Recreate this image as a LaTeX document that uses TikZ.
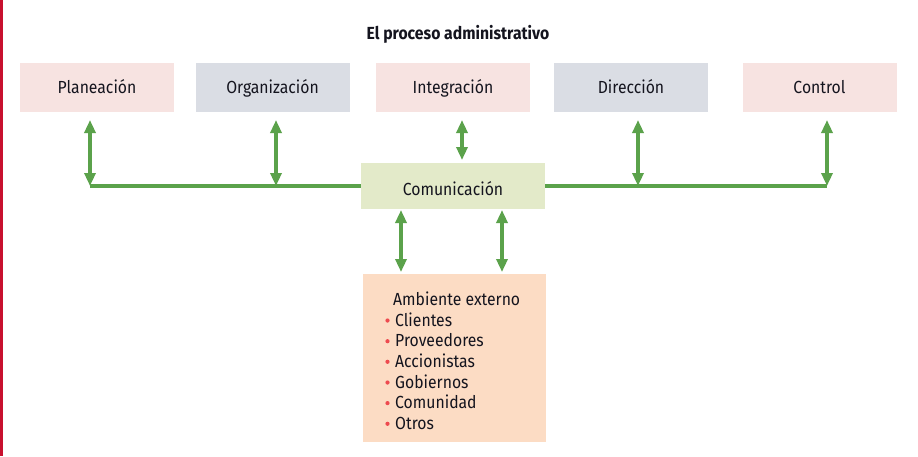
\documentclass[tikz,border=0pt]{standalone}
\usepackage{fontspec}
\setmainfont{Fira Sans}[FakeStretch=0.9]
\usetikzlibrary{arrows.meta}
\definecolor{pinkbox}{HTML}{F7E3E1}
\definecolor{graybox}{HTML}{DADDE4}
\definecolor{greenbox}{HTML}{E3EAC9}
\definecolor{peachbox}{HTML}{FCDCC4}
\definecolor{arrowgreen}{HTML}{5BA24B}
\definecolor{bulletred}{HTML}{EE4A4F}
\definecolor{barred}{HTML}{C8102E}
\definecolor{textdark}{HTML}{14141E}
\begin{document}
\begin{tikzpicture}[x=1pt,y=-1pt,
  box/.style={minimum width=154pt,minimum height=49pt,inner sep=0pt,text=textdark,
    font=\fontsize{17.5}{20}\selectfont,text height=12.6pt,text depth=0pt},
  conn/.style={draw=arrowgreen,line width=3.2pt},
  dbl/.style={conn,{Triangle[width=11pt,length=13pt]}-{Triangle[width=11pt,length=13pt]}},
  item/.style={anchor=base west,inner sep=0pt,text=textdark,font=\fontsize{17.5}{20}\selectfont}
]
\useasboundingbox (0,0) rectangle (918,456);
\fill[white] (0,0) rectangle (918,456);
\fill[barred] (0,0) rectangle (2.5,456);

\node[font=\bfseries\fontsize{17.5}{20}\selectfont,text=textdark,anchor=base] (title) at (458,39.3) {El proceso administrativo};

\node[box,fill=pinkbox] (plan) at (97,87.5) {Planeación};
\node[box,fill=graybox] (org) at (272.5,87.5) {Organización};
\node[box,fill=pinkbox] (integ) at (453,87.5) {Integración};
\node[box,fill=graybox] (dir) at (631,87.5) {Dirección};
\node[box,fill=pinkbox] (ctrl) at (819.5,87.5) {Control};

\node[box,fill=greenbox,minimum width=184pt,minimum height=46pt] (com) at (453,186) {};
\node[item,anchor=base] (comtext) at (453,195) {Comunicación};

\node[fill=peachbox,minimum width=183pt,minimum height=168pt,inner sep=0pt] (amb) at (454.5,358) {};
\node[item] (hdr) at (393,305) {Ambiente externo};
\foreach \t/\y [count=\i] in {Clientes/326,Proveedores/346.7,Accionistas/367.3,Gobiernos/388,Comunidad/408.6,Otros/429.3}{
  \fill[bulletred] (387.5,\y-5.5) circle (2.1pt);
  \node[item] (it\i) at (395,\y) {\t};
}

% trunk line
\coordinate (jp) at (90,186);
\coordinate (jo) at (276,186);
\coordinate (jd) at (638,186);
\coordinate (jc) at (827,186);
\draw[conn] (jp) -- (com.west);
\draw[conn] (com.east) -- (jc);

% arrows to top boxes
\coordinate (tp) at (90,120);
\coordinate (to) at (276,120);
\coordinate (ti) at (462,120);
\coordinate (td) at (638,120);
\coordinate (tc) at (827,120);
\coordinate (bi) at (462,160);
\draw[dbl] (tp) -- (jp);
\draw[dbl] (to) -- (jo);
\draw[dbl] (ti) -- (bi);
\draw[dbl] (td) -- (jd);
\draw[dbl] (tc) -- (jc);

% arrows to ambiente
\coordinate (a1t) at (401,210);
\coordinate (a1b) at (401,272);
\coordinate (a2t) at (502,210);
\coordinate (a2b) at (502,272);
\draw[dbl] (a1t) -- (a1b);
\draw[dbl] (a2t) -- (a2b);
\end{tikzpicture}
\end{document}
